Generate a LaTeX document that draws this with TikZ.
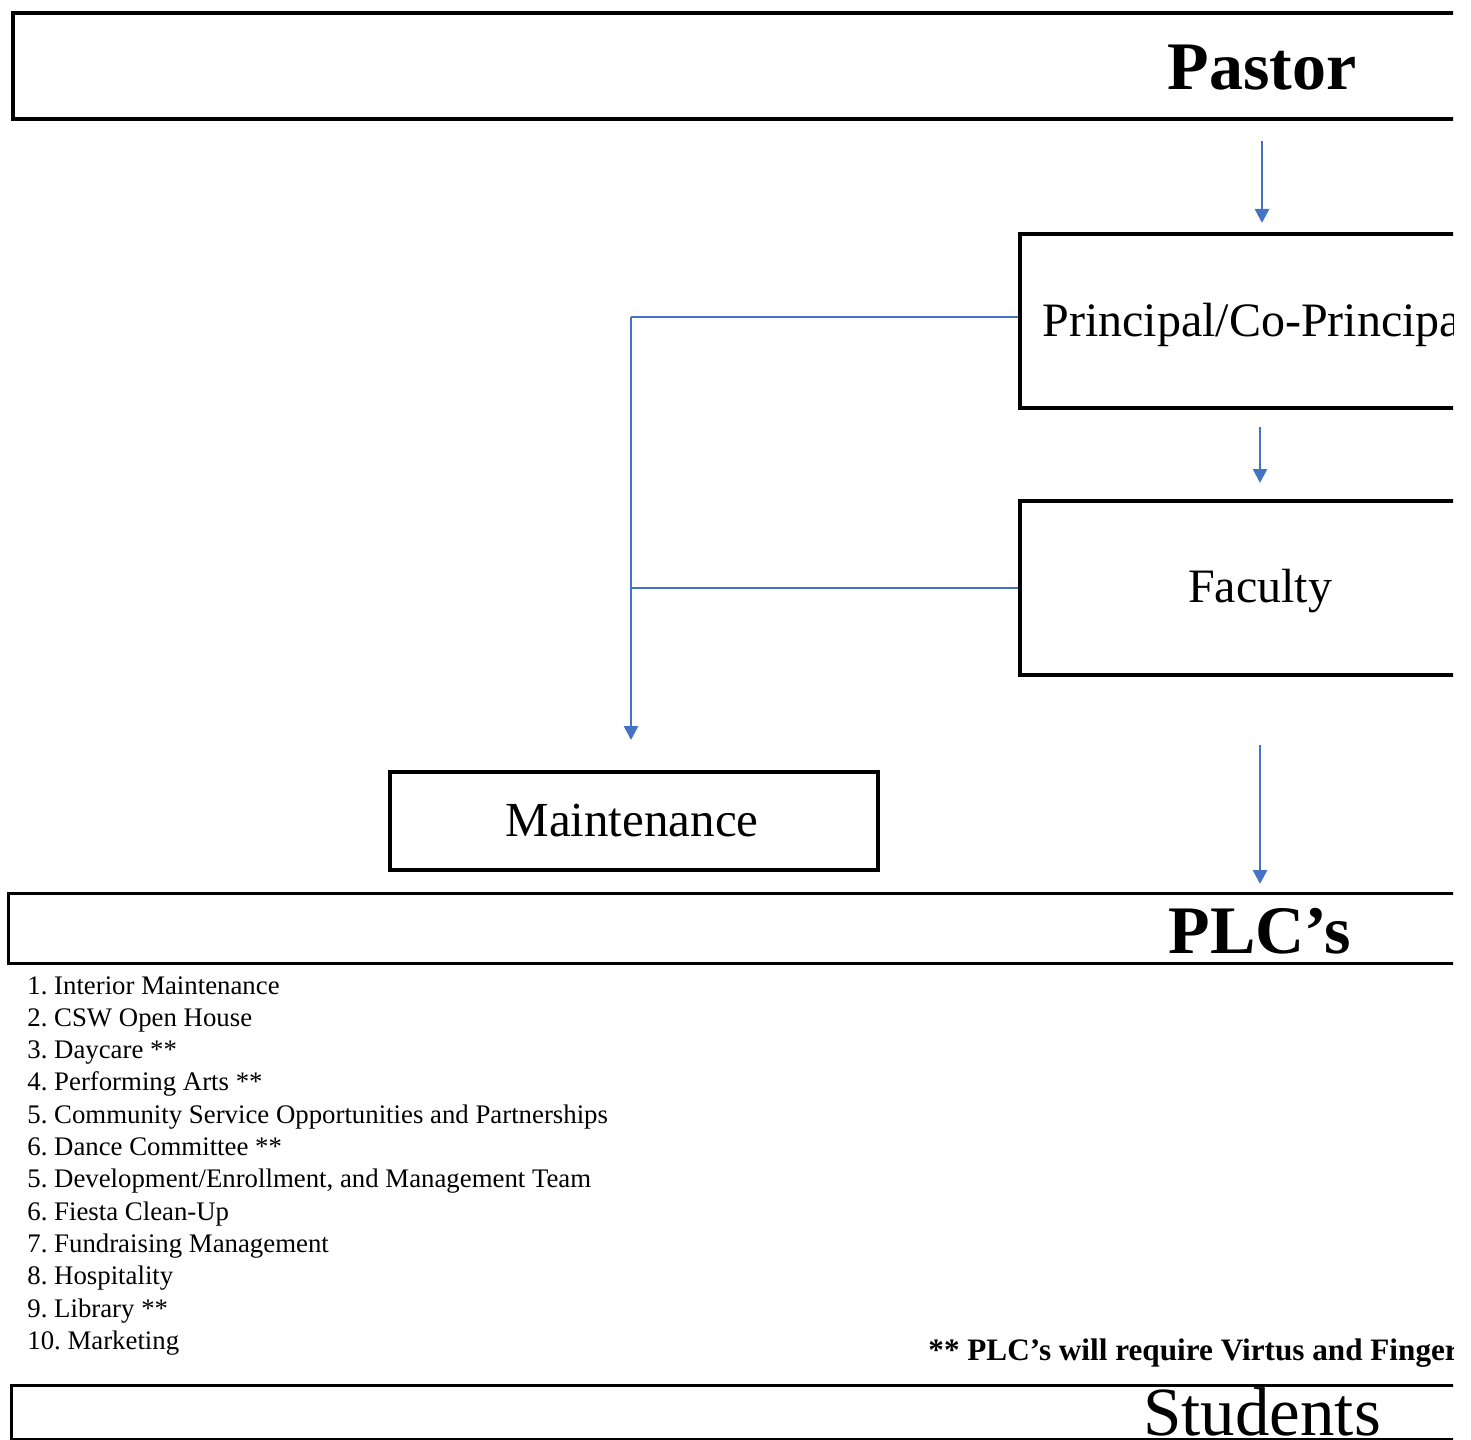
\documentclass[tikz,border=0pt]{standalone}
\usepackage{fontspec}
\setmainfont{Liberation Serif}
\usetikzlibrary{arrows.meta}
\definecolor{linkblue}{RGB}{68,114,196}
\begin{document}
\frenchspacing
\begin{tikzpicture}[x=0.5pt,y=-0.5pt,
  box/.style={draw=black, line width=2pt, rectangle, anchor=north west, inner sep=0pt},
  link/.style={draw=linkblue, line width=1.3pt},
  arr/.style={link, -{Triangle[length=7pt,width=7pt]}},
  big/.style={font=\fontsize{34}{36}\selectfont\bfseries},
  mid/.style={font=\fontsize{24}{26}\selectfont},
  item/.style={anchor=base west, inner sep=0pt, font=\fontsize{13.4}{15}\selectfont}]
\useasboundingbox (0,0) rectangle (1471,1439);
\clip (0,0) rectangle (1453,1439);
% boxes
\node [box, minimum width=760pt, minimum height=53pt] (pastor) at (11,11) {};
\node [box, minimum width=260pt, minimum height=87pt] (principal) at (1018,232) {};
\node [box, minimum width=260pt, minimum height=87pt] (faculty) at (1018,499) {};
\node [box, minimum width=244pt, minimum height=49pt] (maint) at (388,770) {};
\node [box, line width=1.5pt, minimum width=760pt, minimum height=35pt] (plc) at (7,892) {};
\node [box, line width=1.5pt, minimum width=760pt, minimum height=27pt] (students) at (10,1384) {};
% texts
\node [big, anchor=base] (pastortxt) at (1262,90) {Pastor};
\node [mid, anchor=base west, inner sep=0pt] (principaltxt) at (1042,336) {Principal/Co-Principal};
\node [mid, anchor=base] (facultytxt) at (1260,602) {Faculty};
\node [mid, font=\fontsize{24.5}{26}\selectfont, anchor=base] (mainttxt) at (632,836) {Maintenance};
\node [big, anchor=base] (plctxt) at (1260,953) {PLC’s};
\node [font=\fontsize{34.5}{36}\selectfont, anchor=base] (studentstxt) at (1262,1435) {Students};
% list of PLC's
\foreach \t [count=\i from 0] in {1. Interior Maintenance, 2. CSW Open House, 3. Daycare **,
  4. Performing Arts **, 5. Community Service Opportunities and Partnerships, 6. Dance Committee **,
  {5. Development/Enrollment, and Management Team}, 6. Fiesta Clean-Up, 7. Fundraising Management,
  8. Hospitality, 9. Library **, 10. Marketing}
  \node [item] (plc\i) at (27,994+32.3*\i) {\t};
\node [item, font=\fontsize{15.6}{17}\selectfont\bfseries] (note) at (928,1360) {** PLC’s will require Virtus and Fingerprinting};
% connectors
\draw [arr, shorten <=10pt, shorten >=4.5pt] (pastortxt |- pastor.south) -- (pastortxt |- principal.north);
\draw [arr, shorten <=8.5pt, shorten >=8pt] (facultytxt |- principal.south) -- (facultytxt |- faculty.north);
\draw [arr, shorten <=34pt, shorten >=4pt] (facultytxt |- faculty.south) -- (facultytxt |- plc.north);
\coordinate (join) at (631,317);
\draw [link] (principal.west |- join) -- (join);
\draw [link] (faculty.west) -- (join |- faculty.west);
\draw [arr, shorten >=15pt] (join) -- (join |- maint.north);
\end{tikzpicture}
\end{document}
